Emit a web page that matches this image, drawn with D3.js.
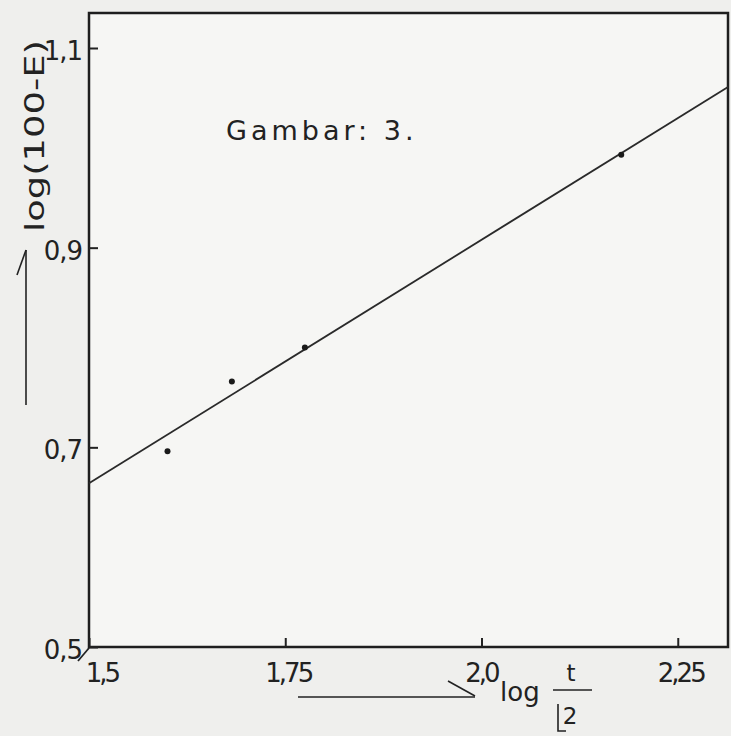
<!DOCTYPE html>
<html>
<head>
<meta charset="utf-8">
<script src="https://cdn.jsdelivr.net/npm/d3@7"></script>
<style>
  body { margin: 0; background: #eeeeec; }
  svg { display: block; }
  text { font-family: "DejaVu Sans", sans-serif; fill: #222; }
</style>
</head>
<body>
<svg></svg>
<script>
// data
var pointX = [1.60, 1.682, 1.775, 2.178];
var pointY = [0.696, 0.766, 0.800, 0.993];
var lineX = [1.5, 2.314];
var lineY = [0.664, 1.061];
var xTicks = [1.5, 1.75, 2.0, 2.25];
var xTickLabels = ["1,5", "1,75", "2,0", "2,25"];
var yTicks = [0.5, 0.7, 0.9, 1.1];
var yTickLabels = ["0,5", "0,7", "0,9", "1,1"];

var svgWidth = 731, svgHeight = 736;
var plotLeft = 89, plotRight = 728, plotTop = 13, plotBottom = 647;

var svg = d3.select("svg")
	.attr("width", svgWidth)
	.attr("height", svgHeight);

svg.append("rect")
	.attr("width", svgWidth).attr("height", svgHeight)
	.attr("fill", "#efefed");

var xScale = d3.scaleLinear()
	.domain([1.5, 2.314])
	.range([plotLeft, plotRight]);
var yScale = d3.scaleLinear()
	.domain([0.5, 1.1])
	.range([plotBottom, 48]);

// plot frame
svg.append("rect")
	.attr("x", plotLeft).attr("y", plotTop)
	.attr("width", plotRight - plotLeft).attr("height", plotBottom - plotTop)
	.attr("fill", "#f6f6f4")
	.attr("stroke", "#1e1e1e")
	.attr("stroke-width", 2.5);

// axes with inward ticks
var x_axis = d3.axisTop(xScale)
	.tickValues(xTicks)
	.tickSize(9)
	.tickFormat("");
svg.append("g")
	.attr("transform", "translate(0," + plotBottom + ")")
	.call(x_axis)
	.call(function(g) { g.select(".domain").remove(); })
	.selectAll("line").attr("stroke", "#222").attr("stroke-width", 2);

var y_axis = d3.axisRight(yScale)
	.tickValues(yTicks)
	.tickSize(9)
	.tickFormat("");
svg.append("g")
	.attr("transform", "translate(" + plotLeft + ",0)")
	.call(y_axis)
	.call(function(g) { g.select(".domain").remove(); })
	.selectAll("line").attr("stroke", "#222").attr("stroke-width", 2);

// tick labels
var xOffsets = [13, 3, 0, 3];
svg.selectAll(".xlab")
	.data(xTicks)
	.enter()
	.append("text")
	.attr("x", function(d, i) { return xScale(d) + xOffsets[i]; })
	.attr("y", 682)
	.attr("text-anchor", "middle")
	.attr("font-size", 26)
	.attr("letter-spacing", -3)
	.text(function(d, i) { return xTickLabels[i]; });

svg.selectAll(".ylab")
	.data(yTicks)
	.enter()
	.append("text")
	.attr("x", plotLeft - 7)
	.attr("y", function(d) { return yScale(d) + 12; })
	.attr("text-anchor", "end")
	.attr("font-size", 26)
	.attr("letter-spacing", -1)
	.text(function(d, i) { return yTickLabels[i]; });

// little slash at the origin
svg.append("line")
	.attr("x1", 78).attr("y1", 661).attr("x2", 89).attr("y2", 648)
	.attr("stroke", "#222").attr("stroke-width", 1.8);

// fitted line
svg.append("line")
	.attr("x1", xScale(lineX[0])).attr("y1", yScale(lineY[0]))
	.attr("x2", xScale(lineX[1])).attr("y2", yScale(lineY[1]))
	.attr("stroke", "#2a2a2a")
	.attr("stroke-width", 1.8);

// points
svg.selectAll(".pt")
	.data(pointX)
	.enter()
	.append("circle")
	.attr("cx", function(d) { return xScale(d); })
	.attr("cy", function(d, i) { return yScale(pointY[i]); })
	.attr("r", 3)
	.attr("fill", "#1a1a1a");

// title
svg.append("text")
	.attr("x", 226).attr("y", 140)
	.attr("font-size", 27)
	.attr("letter-spacing", 4)
	.text("Gambar: 3.");

// y label + arrow
svg.append("text")
	.attr("transform", "translate(44,136) rotate(-90)")
	.attr("text-anchor", "middle")
	.attr("font-size", 27)
	.attr("textLength", 192)
	.attr("lengthAdjust", "spacingAndGlyphs")
	.text("log(100-E)");
svg.append("line")
	.attr("x1", 26).attr("y1", 405).attr("x2", 26).attr("y2", 250)
	.attr("stroke", "#222").attr("stroke-width", 1.6);
svg.append("line")
	.attr("x1", 17).attr("y1", 275).attr("x2", 26).attr("y2", 250)
	.attr("stroke", "#222").attr("stroke-width", 1.6);

// x label + arrow
svg.append("line")
	.attr("x1", 298).attr("y1", 697).attr("x2", 475).attr("y2", 697)
	.attr("stroke", "#222").attr("stroke-width", 1.6);
svg.append("line")
	.attr("x1", 448).attr("y1", 681).attr("x2", 475).attr("y2", 696)
	.attr("stroke", "#222").attr("stroke-width", 1.6);
svg.append("text")
	.attr("x", 500).attr("y", 701)
	.attr("font-size", 26)
	.text("log");
svg.append("text")
	.attr("x", 571).attr("y", 681)
	.attr("text-anchor", "middle")
	.attr("font-size", 23)
	.text("t");
svg.append("line")
	.attr("x1", 553).attr("y1", 690).attr("x2", 592).attr("y2", 690)
	.attr("stroke", "#222").attr("stroke-width", 1.6);
svg.append("text")
	.attr("x", 570).attr("y", 724)
	.attr("text-anchor", "middle")
	.attr("font-size", 23)
	.text("2");
svg.append("path")
	.attr("d", "M558,704 L558,731 L566,731")
	.attr("fill", "none")
	.attr("stroke", "#222").attr("stroke-width", 1.6);
</script>
</body>
</html>
